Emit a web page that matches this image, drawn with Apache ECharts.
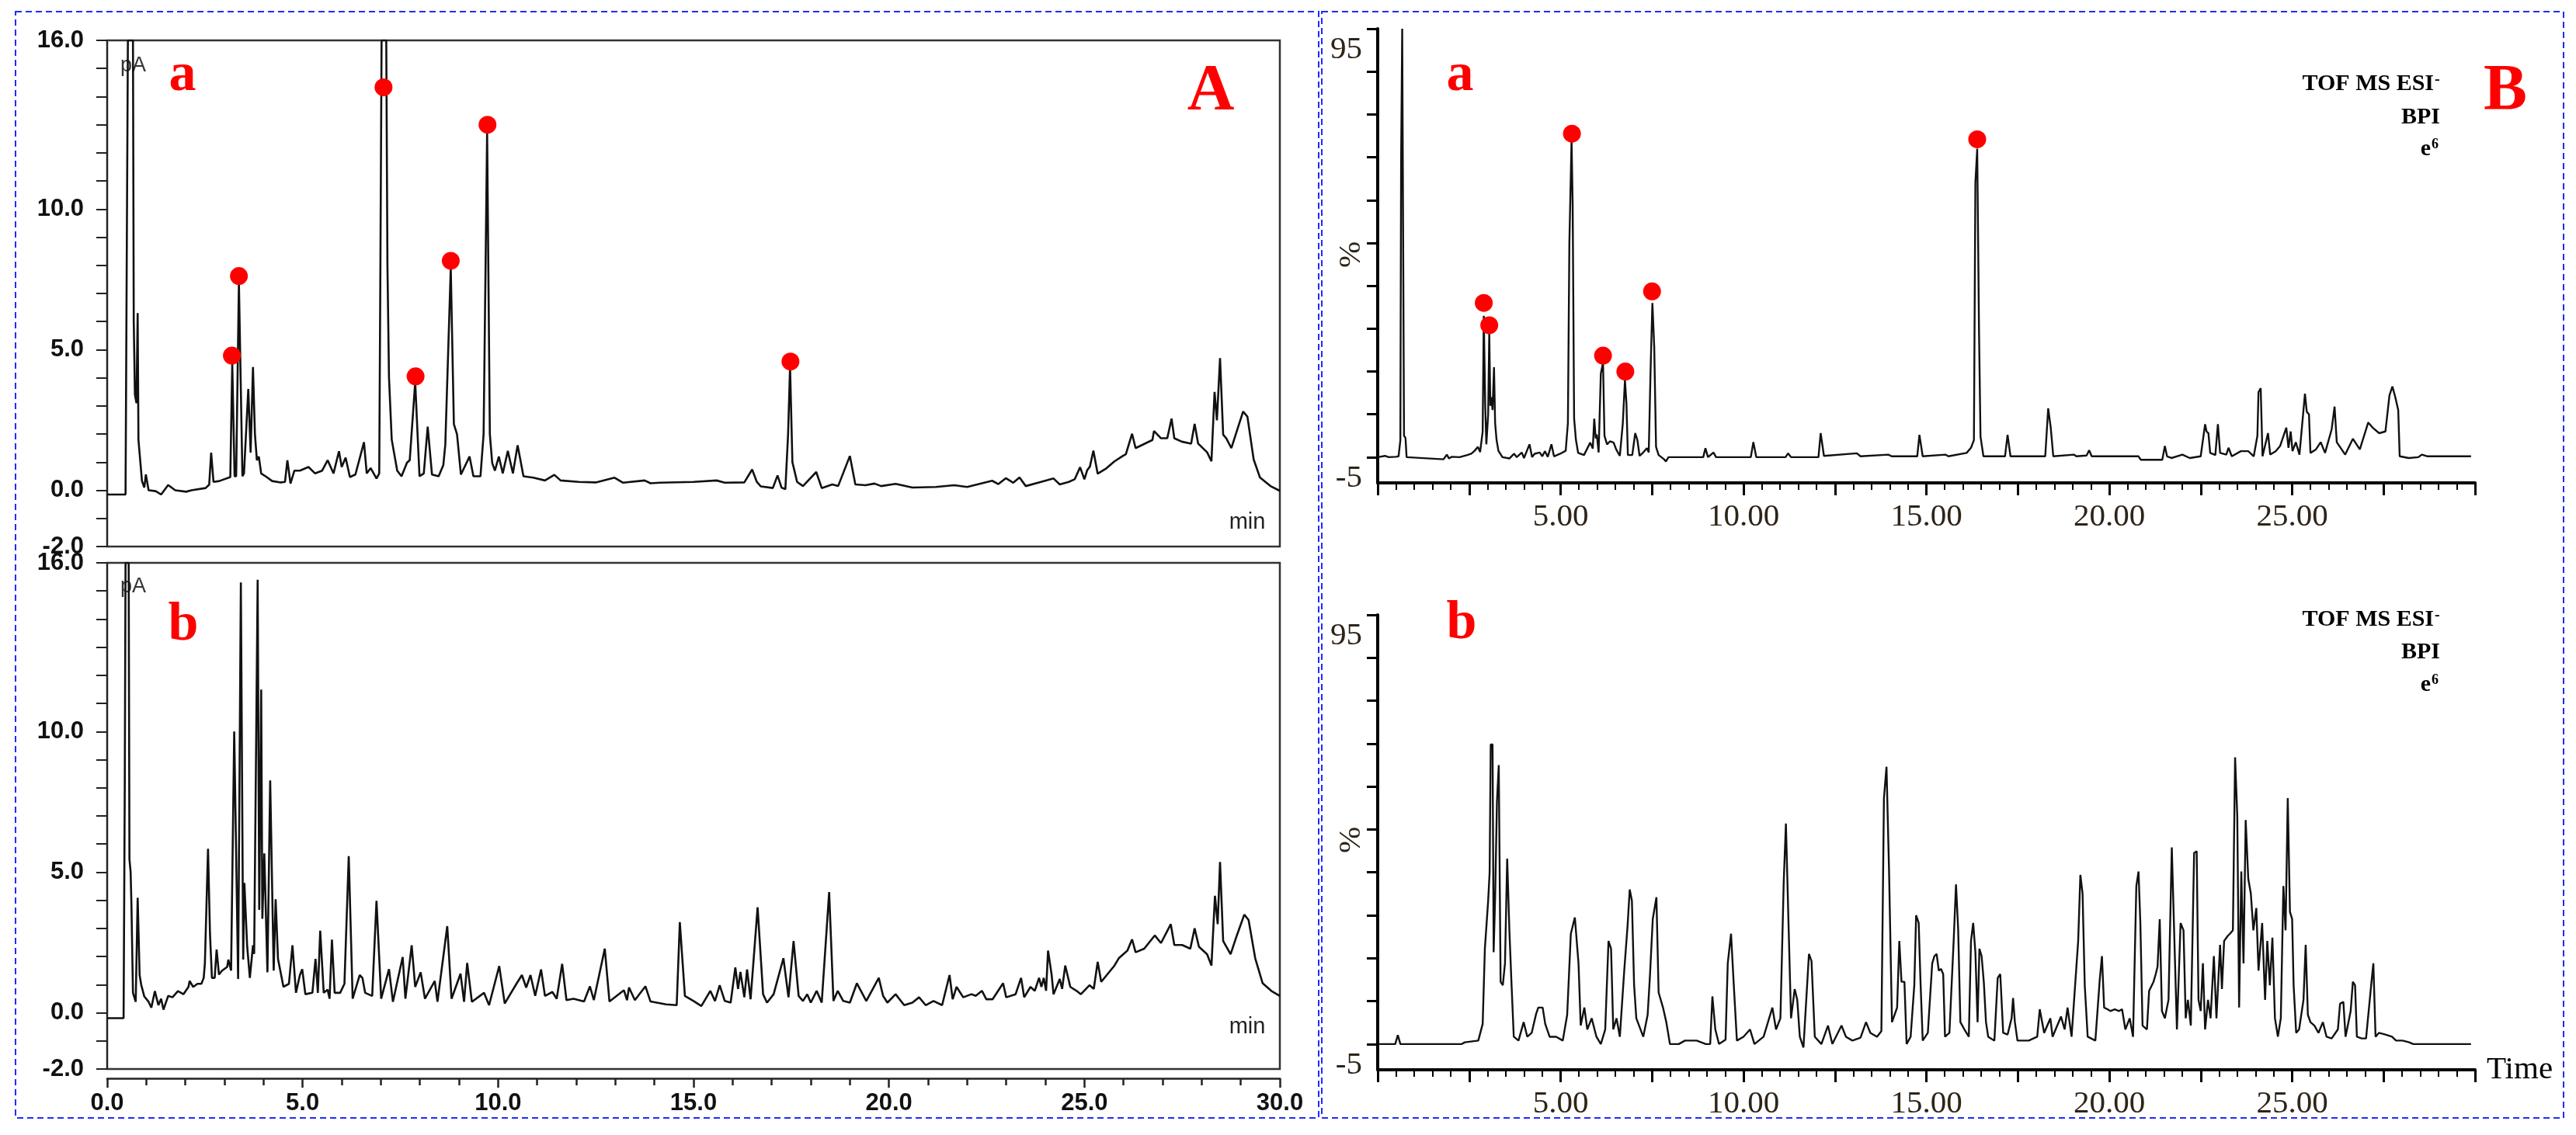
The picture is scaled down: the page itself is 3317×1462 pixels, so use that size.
<!DOCTYPE html>
<html>
<head>
<meta charset="utf-8">
<title>GC / UPLC-MS chromatograms</title>
<script src="https://cdn.jsdelivr.net/npm/echarts@6.0.0/dist/echarts.min.js"></script>
<style>
html, body { margin: 0; padding: 0; background: #fff; }
#main { width: 3317px; height: 1462px; }
</style>
</head>
<body>
<div id="main"></div>
<script>
// tick labels
const gcXLabels = [0, 5, 10, 15, 20, 25, 30];
const gcYLabels = [-2, 0, 5, 10, 16];
const gcYTicks = [-2, -1, 0, 1, 2, 3, 4, 5, 6, 7, 8, 9, 10, 11, 12, 13, 14, 15, 16];
const msXLabels = [5, 10, 15, 20, 25];
const msYLabels = [-5, 95];
const msYTicks = [0, 10, 20, 30, 40, 50, 60, 70, 80, 90, 100];

// panel A, trace a  [min, pA]
const gcTraceA = [
  [0.00,-0.15],[0.47,-0.15],[0.50,8.0],[0.53,16.0],[0.66,16.0],[0.68,6.0],[0.71,3.4],[0.75,3.1],[0.78,6.3],[0.80,1.8],
  [0.89,0.33],[0.95,0.1],[0.99,0.56],[1.06,0.0],[1.24,-0.03],[1.38,-0.15],[1.56,0.19],[1.74,0.0],[2.02,-0.05],[2.16,0.0],
  [2.52,0.08],[2.61,0.2],[2.66,1.34],[2.72,0.3],[2.87,0.33],[3.15,0.47],[3.20,4.5],[3.26,0.5],[3.30,0.5],[3.37,7.4],
  [3.46,0.5],[3.50,0.6],[3.61,3.6],[3.67,1.34],[3.73,4.38],[3.78,2.0],[3.83,1.07],[3.88,1.2],[3.94,0.6],[4.08,0.47],
  [4.22,0.33],[4.44,0.28],[4.55,0.3],[4.61,1.07],[4.69,0.24],[4.79,0.7],[4.93,0.7],[5.15,0.83],[5.32,0.6],[5.50,0.7],
  [5.64,1.07],[5.79,0.6],[5.93,1.39],[6.00,0.83],[6.10,1.16],[6.21,0.47],[6.35,0.56],[6.57,1.71],[6.64,0.6],[6.74,0.79],
  [6.89,0.42],[6.96,0.6],[6.99,8.0],[7.02,16.0],[7.14,16.0],[7.17,8.0],[7.21,4.0],[7.28,1.8],[7.42,0.7],[7.53,0.5],
  [7.67,0.98],[7.74,1.07],[7.88,3.85],[7.99,0.5],[8.10,0.6],[8.20,2.26],[8.31,0.56],[8.48,0.5],[8.60,0.9],[8.65,1.62],
  [8.79,7.9],[8.87,2.35],[8.95,1.99],[9.05,0.56],[9.27,1.2],[9.37,0.5],[9.55,0.5],[9.63,2.0],[9.72,12.7],[9.79,2.0],
  [9.85,0.97],[9.92,0.7],[10.02,1.2],[10.12,0.6],[10.25,1.4],[10.38,0.6],[10.50,1.6],[10.65,0.5],[10.90,0.45],[11.20,0.35],
  [11.44,0.55],[11.60,0.35],[12.07,0.3],[12.50,0.28],[12.98,0.45],[13.20,0.27],[13.75,0.35],[13.90,0.25],[14.14,0.27],[15.00,0.3],
  [15.59,0.35],[15.80,0.27],[16.30,0.28],[16.50,0.74],[16.62,0.3],[16.72,0.14],[17.03,0.08],[17.15,0.53],[17.25,0.1],[17.35,0.04],
  [17.42,2.0],[17.47,4.4],[17.53,1.0],[17.58,0.71],[17.65,0.3],[17.80,0.15],[18.14,0.65],[18.28,0.08],[18.55,0.21],[18.70,0.15],
  [19.00,1.22],[19.14,0.21],[19.40,0.18],[19.63,0.24],[19.80,0.15],[20.17,0.23],[20.60,0.1],[21.20,0.12],[21.67,0.18],[22.00,0.12],
  [22.64,0.34],[22.80,0.22],[22.99,0.43],[23.18,0.27],[23.34,0.46],[23.50,0.15],[23.89,0.3],[24.21,0.42],[24.37,0.21],[24.60,0.3],
  [24.75,0.39],[24.89,0.82],[25.00,0.39],[25.07,0.71],[25.14,0.84],[25.23,1.41],[25.34,0.59],[25.56,0.78],[25.77,1.03],[25.98,1.22],
  [26.06,1.28],[26.22,2.01],[26.31,1.5],[26.74,1.79],[26.78,2.11],[26.96,1.85],[27.12,1.85],[27.23,2.55],[27.30,1.85],[27.49,1.73],
  [27.73,1.66],[27.82,2.36],[27.91,1.66],[28.14,1.35],[28.25,1.03],[28.33,3.5],[28.39,2.49],[28.47,4.7],[28.55,1.98],[28.63,1.85],
  [28.76,1.5],[28.90,2.11],[29.06,2.8],[29.17,2.62],[29.33,1.1],[29.49,0.46],[29.76,0.15],[30.00,-0.02]
];

// panel A, trace b
const gcTraceB = [
  [0.00,-0.19],[0.42,-0.19],[0.45,8.0],[0.47,16.0],[0.55,16.0],[0.57,5.46],[0.60,5.0],[0.62,3.88],[0.66,0.71],[0.73,0.39],
  [0.78,4.09],[0.83,1.34],[0.87,1.0],[0.95,0.58],[1.06,0.39],[1.13,0.18],[1.22,0.77],[1.31,0.27],[1.38,0.5],[1.44,0.11],
  [1.56,0.6],[1.67,0.55],[1.81,0.77],[1.95,0.66],[2.08,0.92],[2.11,1.13],[2.20,0.92],[2.31,1.03],[2.41,1.03],[2.47,1.24],
  [2.50,1.77],[2.58,5.83],[2.63,2.82],[2.68,1.24],[2.75,1.24],[2.80,2.25],[2.86,1.36],[2.94,1.5],[3.07,1.63],[3.10,1.89],
  [3.17,1.5],[3.25,10.0],[3.35,1.2],[3.42,15.3],[3.48,1.89],[3.51,4.62],[3.58,2.4],[3.65,1.24],[3.73,2.4],[3.76,2.09],
  [3.85,15.4],[3.89,3.66],[3.94,11.49],[3.97,3.34],[4.02,5.67],[4.10,1.44],[4.17,8.26],[4.26,1.5],[4.31,4.04],[4.37,1.92],
  [4.51,0.92],[4.65,1.03],[4.74,2.4],[4.83,0.71],[4.93,1.34],[4.99,1.55],[5.07,0.66],[5.25,0.71],[5.33,1.92],[5.39,0.71],
  [5.45,2.92],[5.54,0.71],[5.64,0.82],[5.69,0.5],[5.75,2.6],[5.82,0.71],[5.96,0.71],[6.07,1.03],[6.18,5.57],[6.28,0.5],
  [6.46,1.34],[6.53,1.24],[6.60,0.71],[6.78,0.6],[6.89,3.98],[7.01,0.5],[7.21,1.55],[7.31,0.39],[7.56,1.98],[7.63,0.5],
  [7.79,2.4],[7.88,0.92],[8.02,1.44],[8.13,0.5],[8.38,1.13],[8.45,0.39],[8.70,3.08],[8.81,0.5],[9.04,1.39],[9.13,0.39],
  [9.21,1.77],[9.33,0.39],[9.64,0.71],[9.77,0.27],[10.03,1.66],[10.17,0.33],[10.47,1.03],[10.61,1.34],[10.72,0.9],[10.83,1.34],
  [10.95,0.6],[11.10,1.54],[11.20,0.6],[11.39,0.74],[11.50,0.5],[11.64,1.74],[11.75,0.45],[11.93,0.5],[12.20,0.4],[12.35,0.94],
  [12.45,0.45],[12.73,2.28],[12.85,0.4],[13.22,0.8],[13.30,0.45],[13.35,0.9],[13.50,0.45],[13.77,0.94],[13.90,0.4],[14.30,0.3],
  [14.57,0.27],[14.65,3.22],[14.78,0.6],[15.00,0.42],[15.20,0.24],[15.43,0.78],[15.55,0.42],[15.67,0.98],[15.80,0.42],[15.95,0.36],
  [16.07,1.61],[16.14,0.85],[16.20,1.45],[16.30,0.55],[16.37,1.54],[16.46,0.48],[16.64,3.75],[16.78,0.66],[16.88,0.36],[17.05,0.66],
  [17.30,1.94],[17.43,0.55],[17.56,2.55],[17.69,0.6],[17.80,0.42],[17.91,0.66],[18.00,0.36],[18.15,0.78],[18.28,0.36],[18.47,4.29],
  [18.58,0.42],[18.69,0.78],[18.83,0.42],[19.00,0.36],[19.18,1.05],[19.42,0.42],[19.74,1.24],[19.85,0.6],[19.96,0.36],[20.17,0.66],
  [20.39,0.27],[20.60,0.36],[20.77,0.55],[20.94,0.27],[21.14,0.42],[21.36,0.27],[21.55,1.34],[21.63,0.48],[21.73,0.92],[21.90,0.55],
  [22.11,0.66],[22.22,0.6],[22.38,0.78],[22.49,0.48],[22.65,0.48],[22.92,1.05],[23.00,0.55],[23.24,0.66],[23.38,1.24],[23.46,0.55],
  [23.62,0.92],[23.73,0.78],[23.84,1.24],[23.90,0.92],[23.96,1.24],[24.02,0.78],[24.07,2.21],[24.16,1.37],[24.21,0.66],[24.37,1.2],
  [24.43,0.85],[24.51,1.68],[24.64,0.92],[24.80,0.78],[24.91,0.66],[25.13,0.98],[25.24,0.85],[25.34,1.81],[25.43,1.1],[25.77,1.68],
  [25.88,1.94],[26.10,2.21],[26.22,2.61],[26.31,2.15],[26.53,2.28],[26.80,2.75],[26.96,2.48],[27.21,3.15],[27.30,2.41],[27.50,2.41],
  [27.71,2.28],[27.82,3.0],[27.93,2.35],[28.14,2.08],[28.25,1.68],[28.34,4.16],[28.41,3.15],[28.47,5.36],[28.55,2.55],[28.74,2.08],
  [28.90,2.75],[29.09,3.49],[29.20,3.3],[29.37,1.94],[29.56,1.05],[29.78,0.78],[30.00,0.6]
];

// panel B, trace a  [min, %]
const msTraceA = [
  [0.00,0],[0.20,0.3],[0.30,0],[0.50,0.1],[0.57,0.2],[0.62,4],[0.64,69],[0.67,100],[0.70,100],[0.72,5],
  [0.76,4.5],[0.79,0],[1.80,-0.5],[1.89,0.6],[1.95,-0.3],[2.03,0.1],[2.24,0],[2.45,0.5],[2.56,0.8],[2.65,1.5],
  [2.74,2.4],[2.80,1.2],[2.87,6],[2.90,33],[2.94,12],[2.97,3],[3.02,10],[3.05,29],[3.08,12],[3.11,14],
  [3.14,11],[3.18,21],[3.21,8],[3.25,4],[3.30,1.5],[3.41,0],[3.60,-0.3],[3.73,0.8],[3.80,0],[3.94,1.1],
  [4.00,-0.2],[4.15,3.0],[4.22,0],[4.29,0.8],[4.43,1.1],[4.50,0.2],[4.57,1.4],[4.65,0.1],[4.75,3.0],[4.82,0.2],
  [4.99,0.8],[5.14,1.5],[5.20,8],[5.24,50],[5.30,74],[5.33,59],[5.37,9],[5.42,4],[5.48,1],[5.64,0.5],
  [5.81,3.4],[5.88,2],[5.92,9],[5.96,4.4],[5.99,5.3],[6.04,1.1],[6.10,19.5],[6.16,22],[6.20,5],[6.27,3.0],
  [6.35,3.7],[6.45,3.4],[6.52,1.8],[6.62,0.3],[6.70,7.8],[6.76,18],[6.80,12.6],[6.84,0.5],[6.96,0.5],[7.04,5.6],
  [7.10,4.0],[7.16,0.3],[7.26,1.1],[7.36,2.1],[7.41,1.1],[7.46,20.2],[7.51,36],[7.56,25.8],[7.61,2.4],[7.68,0.5],
  [7.83,-0.5],[7.88,-1],[7.95,0],[8.90,0],[8.96,2.1],[9.03,0],[9.18,1.1],[9.25,0],[10.20,0],[10.27,3.5],
  [10.35,0],[11.15,0],[11.22,0.9],[11.30,0],[12.05,0],[12.11,5.6],[12.20,0.3],[13.10,0.9],[13.20,0.2],[13.96,0.6],
  [14.05,0.2],[14.75,0.2],[14.81,5.2],[14.90,0.2],[15.52,0.6],[15.60,0.2],[16.10,1.0],[16.22,2.2],[16.30,4],[16.34,64],
  [16.39,72],[16.44,29],[16.48,4.8],[16.56,0.2],[17.15,0.2],[17.22,5.2],[17.30,0.2],[18.25,0.2],[18.33,11.4],[18.40,6.9],
  [18.47,0.2],[19.04,0.6],[19.10,0.2],[19.38,0.4],[19.45,1.6],[19.52,0.2],[20.80,0.2],[20.86,-0.6],[21.45,-0.6],[21.52,2.6],
  [21.58,0.2],[21.70,-0.2],[22.00,0.6],[22.20,-0.2],[22.50,0.2],[22.62,7.7],[22.66,6],[22.71,5.6],[22.76,1],[22.90,0.5],
  [22.97,7.7],[23.03,1],[23.20,0.6],[23.26,2.2],[23.35,0.2],[23.60,1.4],[23.80,1.4],[23.95,0.2],[24.05,5],[24.08,15.2],
  [24.14,16.1],[24.19,0.2],[24.34,5.6],[24.40,0.6],[24.55,1.4],[24.67,2.6],[24.84,6.9],[24.90,2.2],[24.96,6],[25.01,1.4],
  [25.10,3.5],[25.20,0.6],[25.35,14.8],[25.40,10.6],[25.46,10],[25.50,1],[25.65,1.8],[25.78,3.5],[25.90,1],[26.08,6.5],
  [26.16,11.8],[26.22,3.5],[26.45,0.6],[26.66,4.3],[26.85,1.8],[27.08,8.1],[27.20,6.9],[27.38,5.6],[27.55,6.0],[27.66,14.4],
  [27.74,16.5],[27.82,14],[27.90,11.0],[27.94,0.2],[28.19,-0.2],[28.45,0],[28.55,0.6],[28.70,0.2],[29.89,0.2]
];

// panel B, trace b
const msTraceB = [
  [0.00,0],[0.48,0],[0.55,2.1],[0.62,0],[2.30,0],[2.38,0.4],[2.75,0.8],[2.87,4.7],[2.93,22.2],[3.02,33.4],
  [3.06,40],[3.09,69.8],[3.14,69.8],[3.17,21.4],[3.21,34],[3.26,56.5],[3.31,65],[3.36,14.5],[3.42,13.7],[3.48,18.8],
  [3.54,43.2],[3.60,26.5],[3.66,13.7],[3.72,1.7],[3.85,0.8],[3.99,5.1],[4.09,1.7],[4.21,2.6],[4.33,7],[4.39,8.5],
  [4.51,8.5],[4.58,4.7],[4.70,1.7],[4.88,1.7],[5.06,0.8],[5.18,6.8],[5.28,25.7],[5.39,29.5],[5.49,18.8],[5.55,4.3],
  [5.65,8.5],[5.73,3.4],[5.85,6],[5.98,1.7],[6.10,0],[6.22,3.4],[6.31,24],[6.38,22.2],[6.44,3.4],[6.53,6],
  [6.62,1.7],[6.74,17.1],[6.83,27.4],[6.89,36],[6.95,33.4],[7.01,13.7],[7.07,6],[7.26,1.7],[7.38,6.8],[7.44,15.4],
  [7.52,29.1],[7.62,34.2],[7.68,12],[7.80,8.5],[7.89,5.1],[7.99,0],[8.23,0],[8.40,0.8],[8.72,0.8],[8.97,0],
  [9.09,0],[9.15,11.1],[9.23,3.4],[9.33,0],[9.51,1],[9.57,18.8],[9.66,25.7],[9.73,14.5],[9.82,0.8],[10.00,1.7],
  [10.18,3.4],[10.30,0],[10.55,1.7],[10.79,8.5],[10.89,3.4],[11.01,6],[11.10,37.7],[11.16,51.4],[11.22,31.7],[11.30,6],
  [11.40,12.8],[11.47,10.3],[11.54,1.7],[11.64,-0.8],[11.79,21],[11.86,19.3],[11.95,1.7],[12.13,0],[12.31,4.3],[12.43,0],
  [12.68,4.3],[12.80,1.7],[12.98,0.8],[13.20,1.5],[13.35,5.1],[13.47,2.6],[13.65,1.7],[13.77,3],[13.84,57.3],[13.91,64.6],
  [13.98,40.2],[14.06,5.1],[14.20,8.5],[14.26,24],[14.32,14.5],[14.40,14.5],[14.46,0],[14.57,1.7],[14.67,13.7],[14.72,30],
  [14.79,28.2],[14.84,14.5],[14.90,0.8],[15.04,2.6],[15.16,18.8],[15.22,20.5],[15.28,21],[15.34,17.1],[15.40,17.5],[15.46,16.3],
  [15.51,1.7],[15.63,2.6],[15.75,24.8],[15.81,37.2],[15.87,26.5],[15.93,5.1],[16.04,3.4],[16.16,1.7],[16.22,24],[16.28,28.2],
  [16.34,21.4],[16.40,5.1],[16.45,22.2],[16.51,20.5],[16.57,14.5],[16.63,5.1],[16.69,1.7],[16.86,0.8],[16.95,15.4],[17.02,16.3],
  [17.10,2.6],[17.22,2.2],[17.33,6],[17.37,10.7],[17.42,5.1],[17.49,0.8],[17.80,0.8],[18.03,1.7],[18.10,8.1],[18.22,2.6],
  [18.39,6],[18.45,1.7],[18.68,6.4],[18.78,3.4],[18.86,8.5],[18.97,1.7],[19.15,24],[19.21,39.4],[19.27,35.1],[19.33,13.7],
  [19.41,1.7],[19.62,0.8],[19.74,15],[19.80,20.5],[19.86,8.5],[19.95,8.1],[20.03,7.7],[20.15,8.1],[20.27,7.7],[20.35,8.1],
  [20.44,3.4],[20.56,6],[20.65,1.7],[20.74,36.8],[20.80,40.2],[20.85,28.2],[20.91,4.3],[21.03,3.4],[21.09,12.4],[21.21,14.5],
  [21.27,16.3],[21.32,18],[21.38,29.1],[21.44,7.7],[21.52,6],[21.62,10.3],[21.71,45.8],[21.77,27.4],[21.85,3.4],[21.95,28.2],
  [22.03,26.5],[22.09,6],[22.15,10.3],[22.23,4.3],[22.32,44.5],[22.39,44.9],[22.44,10.3],[22.50,7.7],[22.56,18.8],[22.62,3.4],
  [22.70,10.3],[22.77,6],[22.86,20.5],[22.93,6],[23.03,23.1],[23.08,12.8],[23.14,24],[23.24,25.2],[23.30,25.7],[23.38,26.5],
  [23.44,66.8],[23.50,53.1],[23.55,8.5],[23.61,40.2],[23.67,18.8],[23.73,52.2],[23.80,38.5],[23.87,35.1],[23.94,26.5],[24.02,31.7],
  [24.08,17.1],[24.18,28.2],[24.26,10.3],[24.32,24],[24.39,13.7],[24.46,24.8],[24.53,6],[24.61,1.7],[24.69,6],[24.76,36.8],
  [24.82,26.5],[24.88,57.3],[24.94,30.8],[25.00,29.1],[25.04,13.7],[25.11,2.6],[25.19,3.4],[25.31,10.3],[25.37,23.1],[25.43,6.8],
  [25.50,5.1],[25.61,4.3],[25.72,2.6],[25.84,5.1],[25.94,1.7],[26.08,1.3],[26.25,3.4],[26.31,9.4],[26.40,9.8],[26.46,1.7],
  [26.60,7.7],[26.66,14.5],[26.72,13.7],[26.77,1.7],[26.90,1.3],[27.02,1.3],[27.16,13.7],[27.22,18.8],[27.28,1.7],[27.37,2.6],
  [27.55,2.2],[27.73,1.7],[27.84,0.8],[28.02,0.8],[28.20,0.4],[28.31,0],[29.89,0]
];

// red markers on identified peaks
const gcMarks = [[3.19,4.79],[3.37,7.62],[7.07,14.33],[7.89,4.05],[8.79,8.16],[9.73,13.0],[17.48,4.58]];
const msMarks = [[2.90,36],[3.05,30.8],[5.31,75.5],[6.16,23.7],[6.77,20],[7.50,38.7],[16.39,74.2]];

const SANS = 'Liberation Sans, Arial, sans-serif';
const SERIF = 'Liberation Serif, Times New Roman, serif';
const msLabelColor = '#2e2418';

const chart = echarts.init(document.getElementById('main'));

const gcYAxis = (gridIndex) => ({
  gridIndex: gridIndex, type: 'value', min: -2, max: 16, offset: 11,
  axisLine: { show: true, lineStyle: { color: '#222', width: 2 } },
  axisTick: { show: true, customValues: gcYTicks, length: 14, lineStyle: { color: '#222', width: 2 } },
  axisLabel: { customValues: gcYLabels, formatter: v => v.toFixed(1), fontFamily: SANS, fontSize: 31, fontWeight: 'bold', color: '#111', margin: 19 },
  splitLine: { show: false }
});

const msXAxis = (gridIndex) => ({
  gridIndex: gridIndex, type: 'value', min: 0, max: 30, interval: 2.5,
  axisLine: { show: true, onZero: false, lineStyle: { color: '#000', width: 4 } },
  axisTick: { show: true, length: 16, lineStyle: { color: '#000', width: 3 } },
  minorTick: { show: true, splitNumber: 5, length: 9, lineStyle: { color: '#000', width: 2 } },
  axisLabel: { customValues: msXLabels, formatter: v => v.toFixed(2), fontFamily: SERIF, fontSize: 41, color: msLabelColor, margin: 24 },
  splitLine: { show: false }
});

const msYAxis = (gridIndex) => ({
  gridIndex: gridIndex, type: 'value', min: -6, max: 100,
  axisLine: { show: true, lineStyle: { color: '#000', width: 4 } },
  axisTick: { show: true, customValues: msYTicks, length: 14, lineStyle: { color: '#000', width: 3 } },
  axisLabel: { customValues: msYLabels, formatter: v => String(v), fontFamily: SERIF, fontSize: 41, color: msLabelColor, margin: 20 },
  splitLine: { show: false }
});

const trace = (data, idx, width) => ({
  type: 'line', xAxisIndex: idx, yAxisIndex: idx, data: data, symbol: 'none', silent: true,
  lineStyle: { color: '#111', width: width }
});

const marks = (data, idx) => ({
  type: 'scatter', xAxisIndex: idx, yAxisIndex: idx, data: data, symbolSize: 23, silent: true, z: 5,
  itemStyle: { color: '#ff0000', opacity: 1 }
});

const text = (x, y, str, size, opts) => Object.assign({
  type: 'text', x: x, y: y, silent: true,
  style: Object.assign({ text: str, fontSize: size, fontFamily: SERIF, fill: '#000', align: 'center', verticalAlign: 'middle' }, opts && opts.style)
}, opts && opts.el);

const frame = { fill: 'none', stroke: '#1f2bff', lineWidth: 2, lineDash: [8, 5] };

const option = {
  animation: false,
  backgroundColor: '#fff',
  grid: [
    { left: 138, top: 52, width: 1510, height: 652, show: true, borderColor: '#333', borderWidth: 2.5 },
    { left: 138, top: 725, width: 1510, height: 652, show: true, borderColor: '#333', borderWidth: 2.5 },
    { left: 1774, top: 37, width: 1413, height: 585 },
    { left: 1774, top: 792, width: 1413, height: 586 }
  ],
  xAxis: [
    { gridIndex: 0, type: 'value', min: 0, max: 30, show: false },
    {
      gridIndex: 1, type: 'value', min: 0, max: 30, interval: 5, offset: 12,
      axisLine: { show: true, onZero: false, lineStyle: { color: '#222', width: 2.5 } },
      axisTick: { show: true, length: 12, lineStyle: { color: '#222', width: 2.5 } },
      minorTick: { show: true, splitNumber: 5, length: 9, lineStyle: { color: '#222', width: 2.5 } },
      axisLabel: { customValues: gcXLabels, formatter: v => v.toFixed(1), fontFamily: SANS, fontSize: 31, fontWeight: 'bold', color: '#111', margin: 17 },
      splitLine: { show: false }
    },
    msXAxis(2),
    msXAxis(3)
  ],
  yAxis: [gcYAxis(0), gcYAxis(1), msYAxis(2), msYAxis(3)],
  series: [
    trace(gcTraceA, 0, 2.6),
    trace(gcTraceB, 1, 2.6),
    trace(msTraceA, 2, 2.4),
    trace(msTraceB, 3, 2.4),
    marks(gcMarks, 0),
    marks(msMarks, 2)
  ],
  graphic: [
    { type: 'rect', silent: true, shape: { x: 20, y: 15, width: 1678, height: 1425 }, style: frame },
    { type: 'rect', silent: true, shape: { x: 1702, y: 15, width: 1599, height: 1425 }, style: frame },

    text(155, 85, 'pA', 27, { style: { fontFamily: SANS, fill: '#333', align: 'left' } }),
    text(155, 756, 'pA', 27, { style: { fontFamily: SANS, fill: '#333', align: 'left' } }),
    text(1606, 673, 'min', 29, { style: { fontFamily: SANS, fill: '#222' } }),
    text(1606, 1323, 'min', 29, { style: { fontFamily: SANS, fill: '#222' } }),

    text(235, 98, 'a', 70, { style: { fontWeight: 'bold', fill: '#ff0000' } }),
    text(236, 806, 'b', 70, { style: { fontWeight: 'bold', fill: '#ff0000' } }),
    text(1880, 98, 'a', 70, { style: { fontWeight: 'bold', fill: '#ff0000' } }),
    text(1882, 804, 'b', 70, { style: { fontWeight: 'bold', fill: '#ff0000' } }),
    text(1559, 119, 'A', 84, { style: { fontWeight: 'bold', fill: '#ff0000' } }),
    text(3226, 119, 'B', 84, { style: { fontWeight: 'bold', fill: '#ff0000' } }),

    text(3134, 108, 'TOF MS ESI', 30, { style: { fontWeight: 'bold', align: 'right' } }),
    text(3135, 103, '-', 20, { style: { fontWeight: 'bold', align: 'left' } }),
    text(3142, 151, 'BPI', 30, { style: { fontWeight: 'bold', align: 'right' } }),
    text(3130, 192, 'e', 30, { style: { fontWeight: 'bold', align: 'right' } }),
    text(3131, 186, '6', 18, { style: { fontWeight: 'bold', align: 'left' } }),

    text(3134, 798, 'TOF MS ESI', 30, { style: { fontWeight: 'bold', align: 'right' } }),
    text(3135, 793, '-', 20, { style: { fontWeight: 'bold', align: 'left' } }),
    text(3142, 840, 'BPI', 30, { style: { fontWeight: 'bold', align: 'right' } }),
    text(3130, 882, 'e', 30, { style: { fontWeight: 'bold', align: 'right' } }),
    text(3131, 876, '6', 18, { style: { fontWeight: 'bold', align: 'left' } }),

    text(1740, 328, '%', 41, { style: { fill: msLabelColor }, el: { rotation: Math.PI / 2 } }),
    text(1740, 1082, '%', 41, { style: { fill: msLabelColor }, el: { rotation: Math.PI / 2 } }),
    text(3202, 1378, 'Time', 41, { style: { align: 'left' } })
  ]
};

chart.setOption(option);
</script>
</body>
</html>
